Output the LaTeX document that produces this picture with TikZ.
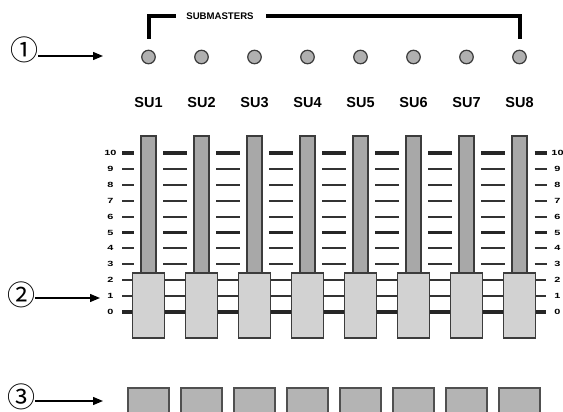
\documentclass[tikz,border=0pt]{standalone}
\usepackage{fontspec}
\setmainfont{Liberation Sans}
\newfontfamily\circfont{Noto Sans CJK JP}
\usetikzlibrary{arrows.meta}
\definecolor{slotfill}{HTML}{A8A8A8}
\definecolor{knobfill}{HTML}{D2D2D2}
\definecolor{ledfill}{HTML}{B0B0B0}
\definecolor{btnfill}{HTML}{B4B4B4}
\definecolor{edge}{HTML}{3C3C3C}
\newcommand{\widenum}[1]{\scalebox{1.45}[1]{#1}}
\tikzset{
  sulabel/.style={font=\bfseries\fontsize{14.5}{14.5}\selectfont, inner sep=0pt},
  scalelabel/.style={font=\bfseries\fontsize{7.5}{7.5}\selectfont, inner sep=0pt},
  titlelabel/.style={font=\bfseries\fontsize{9.6}{9.6}\selectfont, inner sep=0pt},
  led/.style={circle, draw=edge, fill=ledfill, line width=1.2pt, minimum size=13.5pt, inner sep=0pt},
  slot/.style={rectangle, draw=edge, fill=slotfill, line width=1.3pt, minimum width=15pt, minimum height=140pt, inner sep=0pt},
  knob/.style={rectangle, draw=edge, fill=knobfill, line width=1.3pt, minimum width=32pt, minimum height=65pt, inner sep=0pt},
  btn/.style={rectangle, draw=edge!90, fill=btnfill, line width=1.4pt, minimum width=41pt, minimum height=41pt, inner sep=0pt},
  circnum/.style={font=\circfont\fontsize{28}{28}\selectfont, inner sep=0pt},
  pointer/.style={-{Triangle[length=10pt,width=8pt]}, line width=1.3pt, black},
  bracket/.style={line width=4pt, black},
  thickmark/.style={line width=3.2pt, black!85},
  thinmark/.style={line width=1.9pt, black!80},
}
\begin{document}
\begin{tikzpicture}[x=1pt,y=-1pt]
\useasboundingbox (0,0) rectangle (563,412);
\clip (0,0) rectangle (563,412);

% bracket and title
\node[titlelabel] (title) at (220,16) {SUBMASTERS};
\draw[bracket] (149,39) -- (149,16) -- (176,16);
\draw[bracket] (266,16) -- (520,16) -- (520,39);

% continuous lines for levels 0,1,2
\draw[thickmark] (122,312) -- (546,312);
\draw[line width=1.9pt, black!80] (122,296.1) -- (546,296.1);
\draw[line width=1.9pt, black!80] (122,280.2) -- (546,280.2);

% tick marks for levels 3..10
\foreach \L in {3,...,10}{
  \pgfmathsetmacro{\yy}{312-15.9*\L}
  \ifnum\L=5 \def\mk{thickmark}\else\ifnum\L=10 \def\mk{thickmark}\else\def\mk{thinmark}\fi\fi
  \draw[\mk] (122,\yy) -- (134,\yy);
  \draw[\mk] (534.5,\yy) -- (546.5,\yy);
  \foreach \i in {0,...,6}{
    \pgfmathsetmacro{\cc}{148.5+53*\i}
    \draw[\mk] (\cc+14.5,\yy) -- (\cc+38.5,\yy);
  }
}

% scale numbers
\foreach \L in {0,...,10}{
  \pgfmathsetmacro{\yy}{312-15.9*\L}
  \node[scalelabel] (ls\L) at (110.5,\yy) {\widenum{\L}};
  \node[scalelabel] (rs\L) at (557.5,\yy) {\widenum{\L}};
}

% channels
\foreach \i in {1,...,8}{
  \pgfmathsetmacro{\cc}{148.5+53*(\i-1)}
  \node[led] (led\i) at (\cc,57) {};
  \node[sulabel] (su\i) at (\cc,103) {SU\i};
  \node[slot] (slot\i) at (\cc,206) {};
  \node[knob] (knob\i) at (\cc,305.5) {};
  \node[btn] (btn\i) at (\cc,408.5) {};
}

% callouts
\node[circnum] (c1) at (24,50) {①};
\node[circnum] (c2) at (21,295) {②};
\node[circnum] (c3) at (21,397) {③};
\coordinate (p1) at (103,56);
\coordinate (p2) at (100,298);
\coordinate (p3) at (103,401);
\draw[pointer] (c1.east |- p1) -- (p1);
\draw[pointer] (c2.east |- p2) -- (p2);
\draw[pointer] (c3.east |- p3) -- (p3);
\end{tikzpicture}
\end{document}
